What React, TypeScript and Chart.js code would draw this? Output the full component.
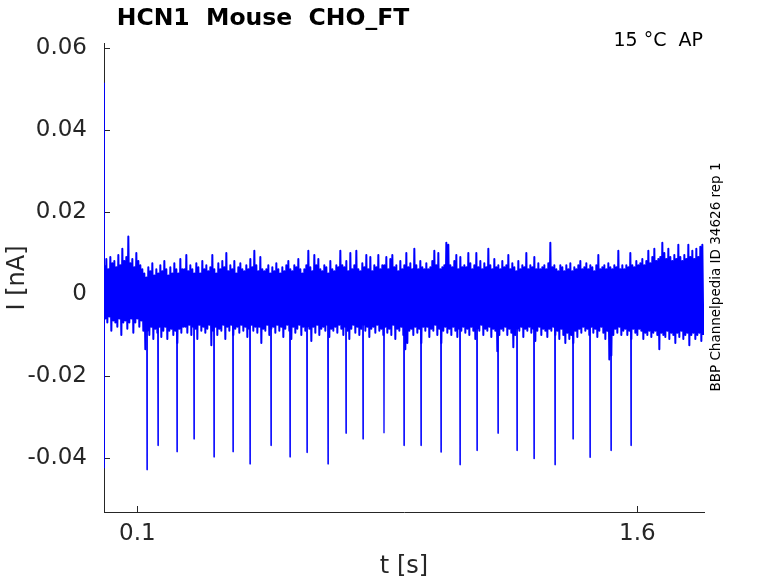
import React, { useEffect, useRef } from "react";
import { Chart, registerables } from "chart.js";

Chart.register(...registerables);

// ---- data ----
const xTicks = [0.1, 1.6];
const xTickLabels = ["0.1", "1.6"];
const yTicks = [-0.04, -0.02, 0, 0.02, 0.04, 0.06];
const yTickLabels = ["-0.04", "-0.02", "0", "0.02", "0.04", "0.06"];

const sampleStep = 0.006; // s between noise envelope samples

// upper excursions of the noisy current, pA
const noiseHiPA = [
  7, 8.5, 6, 9, 7.5, 8, 6.5, 9.5, 7, 11, 8, 9, 14, 7.5, 8.5, 6.5, 10, 8, 7, 6,
  5, 4, 6.5, 5.5, 7.5, 4.5, 6, 5, 7, 5.5, 8, 6, 4.5, 6.5, 5, 7.5, 6, 5, 8.5, 6,
  6, 9.5, 5.5, 7, 6, 5, 7.5, 6.5, 5, 8, 6, 7, 5.5, 6.5, 9.5, 6, 5, 7.5, 6, 8,
  6.5, 10, 5.5, 7, 6, 8, 5, 6.5, 7.5, 6, 5.5, 7, 6, 8.5, 6.5, 10.5, 7, 5.5, 9, 6,
  5.5, 6, 7, 5, 6.5, 5.5, 7.5, 6, 5, 6.5, 5.5, 7, 8, 6, 5.5, 7, 6.5, 8.5, 6, 5,
  6, 7, 10.5, 6.5, 5.5, 9.5, 7, 8.5, 6, 5.5, 7, 6.5, 5, 8, 6, 5.5, 7, 6.5, 10.5, 7,
  6.5, 8, 5.5, 10, 6, 7, 10.5, 6, 5.5, 7.5, 6.5, 9.5, 6, 9, 5.5, 7, 6.5, 9.5, 6, 7,
  7, 9, 6, 8.5, 9.5, 6.5, 7, 5.5, 8, 6, 7, 10, 6.5, 7.5, 6, 11, 7, 6, 8, 6.5,
  6, 7.5, 6, 6.5, 8, 10.5, 7, 10, 6, 6.5, 7, 12.5, 12, 7, 6.5, 8, 9.5, 6, 9, 6.5,
  7, 6.5, 10, 7.5, 6, 7, 10, 6.5, 8, 6, 7.5, 6.5, 11, 7, 6, 8.5, 6.5, 7, 6, 8,
  6.5, 7, 9.5, 6, 7.5, 6.5, 5.5, 8, 6, 7, 6.5, 10, 6, 7, 6.5, 9, 6, 7.5, 6, 6.5,
  7, 6, 7.5, 12.5, 6.5, 7, 6, 5.5, 7, 6.5, 5.5, 7, 6, 7.5, 5.5, 6.5, 6, 7, 8, 6,
  6.5, 7.5, 6, 7, 6.5, 5.5, 7, 9.5, 6, 6.5, 7, 6, 7.5, 6.5, 6, 7, 6.5, 10.5, 6, 7,
  6, 7, 6.5, 10, 7, 6.5, 8, 7, 7.5, 8.5, 7, 8, 10.5, 7.5, 9, 11, 8, 8.5, 9, 12.5,
  10, 8.5, 11, 9, 8, 9.5, 8.5, 12, 9, 8, 9.5, 8.5, 12, 9, 10.5, 8.5, 11, 9, 11.5, 12,
];

// lower excursions of the noisy current, pA
const noiseLoPA = [
  -6, -7, -5.5, -9, -6.5, -7, -8, -6, -10, -7, -6.5, -8.5, -7, -6, -9.5, -7, -6, -8, -6.5, -9,
  -13.5, -9, -10, -8, -11, -8.5, -9.5, -8, -10.5, -9, -8, -11, -9, -8.5, -10, -9, -12, -8.5, -9.5, -8,
  -8, -9.5, -7.5, -10, -8, -8.5, -11, -7.5, -9, -8, -9.5, -8.5, -7.5, -12.5, -9, -8, -10, -8.5, -9, -7.5,
  -11, -8, -9, -7.5, -10, -8.5, -8, -9.5, -7.5, -9, -8, -10.5, -8.5, -7.5, -9, -8, -9.5, -8, -12, -8.5,
  -9, -7.5, -10, -8.5, -8, -9.5, -7.5, -9, -8, -10.5, -8.5, -7.5, -9, -11, -8, -9.5, -8.5, -7.5, -10, -8,
  -9, -8, -8.5, -11.5, -8, -9.5, -7.5, -10, -8.5, -8, -9, -7.5, -10.5, -8.5, -9, -8, -9.5, -7.5, -8.5, -10,
  -8, -9, -11, -8.5, -7.5, -9.5, -8, -10, -8.5, -7.5, -9, -8, -10.5, -8.5, -8, -9.5, -7.5, -9, -8.5, -10,
  -8, -9.5, -8.5, -10, -7.5, -11, -8.5, -9, -8, -10, -13.5, -12, -9, -8.5, -10, -8, -9.5, -8.5, -12, -8,
  -9, -8, -10.5, -8.5, -9, -7.5, -10, -8.5, -12, -9, -8, -9.5, -8.5, -10, -8, -9, -10.5, -8.5, -9, -8,
  -9.5, -8.5, -10, -8, -9, -11, -8.5, -9, -7.5, -10, -8.5, -9, -8, -10.5, -8.5, -9, -14, -10, -8.5, -9,
  -8, -10, -8.5, -9.5, -13, -10, -8.5, -9, -8, -10.5, -8.5, -9, -8, -9.5, -8.5, -11.5, -9, -8, -10, -8.5,
  -9, -10.5, -8.5, -9, -8, -10, -9, -11, -8.5, -10, -12, -9.5, -11, -10, -12, -9, -10.5, -8.5, -9.5, -8,
  -9, -8.5, -10, -8, -9.5, -8.5, -10.5, -9, -8, -9.5, -11, -9, -16, -15, -10, -8.5, -9.5, -8, -10, -9,
  -8.5, -10, -9, -11, -8.5, -9.5, -10, -8.5, -9, -11, -9.5, -10, -9, -10.5, -9.5, -9, -10, -13.5, -9.5, -10,
  -10.5, -9, -11, -9.5, -10, -12, -9.5, -10.5, -9, -11, -10, -9.5, -12.5, -10, -9.5, -11, -10, -9.5, -11.5, -10,
];

// evoked downward current spikes
const spikeTimes = [
  0.129, 0.162, 0.219, 0.27, 0.33, 0.387, 0.438, 0.501, 0.558, 0.609, 0.672, 0.726, 0.777, 0.84,
  0.9, 0.951, 1.011, 1.068, 1.119, 1.182, 1.239, 1.29, 1.353, 1.407, 1.458, 1.521, 1.581,
];
const spikeDepths = [
  -0.0429, -0.037, -0.0385, -0.0354, -0.0398, -0.0385, -0.0415, -0.037, -0.0398, -0.0387, -0.0415,
  -0.034, -0.0354, -0.034, -0.037, -0.037, -0.0386, -0.0417, -0.0382, -0.034, -0.0382, -0.0402,
  -0.0417, -0.0354, -0.0399, -0.0382, -0.037,
];
const spikeBase = -0.004;

// initial capacitive transient
const transientTime = 0.0006;
const transientValues = [0.0515, -0.0425];

const FONT = '"DejaVu Sans", sans-serif';
const AXIS_COLOR = "#262626";

const overlayPlugin = {
  id: "overlay",
  beforeDatasetsDraw(chart: any) {
    const { ctx, chartArea: a, scales } = chart;
    const x = scales.x;
    const y = scales.y;
    ctx.save();
    ctx.strokeStyle = AXIS_COLOR;
    ctx.lineWidth = 1;
    ctx.beginPath();
    for (const v of yTicks) {
      const py = Math.round(y.getPixelForValue(v)) + 0.5;
      ctx.moveTo(a.left, py);
      ctx.lineTo(a.left + 6, py);
    }
    for (const v of xTicks) {
      const px = Math.round(x.getPixelForValue(v)) + 0.5;
      ctx.moveTo(px, a.bottom);
      ctx.lineTo(px, a.bottom - 6);
    }
    ctx.stroke();
    ctx.restore();
  },
  afterDraw(chart: any) {
    const { ctx, chartArea: a } = chart;
    ctx.save();
    ctx.textBaseline = "middle";

    // title
    ctx.fillStyle = "#000";
    ctx.textAlign = "center";
    ctx.font = `bold 23.5px ${FONT}`;
    ctx.fillText("HCN1  Mouse  CHO_FT", 263, 19);

    // top-right annotation
    ctx.textAlign = "right";
    ctx.font = `19px ${FONT}`;
    ctx.fillText("15 °C  AP", 703, 41);

    // axis titles
    ctx.fillStyle = AXIS_COLOR;
    ctx.textAlign = "center";
    ctx.font = `24px ${FONT}`;
    ctx.fillText("t [s]", (a.left + a.right) / 2, 567);

    ctx.save();
    ctx.translate(18, 278);
    ctx.rotate(-Math.PI / 2);
    ctx.fillText("I [nA]", 0, 0);
    ctx.restore();

    // right vertical note
    ctx.fillStyle = "#000";
    ctx.save();
    ctx.translate(716, 277);
    ctx.rotate(-Math.PI / 2);
    ctx.font = `13.5px ${FONT}`;
    ctx.fillText("BBP Channelpedia ID 34626 rep 1", 0, 0);
    ctx.restore();

    ctx.restore();
  },
};

export default function App() {
  const canvasRef = useRef<HTMLCanvasElement | null>(null);

  useEffect(() => {
    if (!canvasRef.current) return;

    const noisePoints: { x: number; y: number }[] = [];
    for (let i = 0; i < noiseHiPA.length; i++) {
      const t = i * sampleStep;
      noisePoints.push({ x: t + 0.001, y: noiseHiPA[i] / 1000 });
      noisePoints.push({ x: t + 0.004, y: noiseLoPA[i] / 1000 });
    }

    const spikePoints: any[] = [];
    spikeTimes.forEach((t, i) => {
      spikePoints.push({ x: t - 0.0008, y: spikeBase });
      spikePoints.push({ x: t, y: spikeDepths[i] });
      spikePoints.push({ x: t + 0.0008, y: spikeBase });
      spikePoints.push({ x: t + 0.0009, y: null });
    });

    const transientPoints = transientValues.map((v) => ({ x: transientTime, y: v }));

    const chart = new Chart(canvasRef.current, {
      type: "scatter",
      data: {
        datasets: [
          {
            data: noisePoints,
            showLine: true,
            borderColor: "#0000ff",
            borderWidth: 2,
            borderJoinStyle: "round",
            pointRadius: 0,
            tension: 0,
          },
          {
            data: spikePoints,
            showLine: true,
            spanGaps: false,
            borderColor: "#0000ff",
            borderWidth: 1.3,
            borderJoinStyle: "bevel",
            pointRadius: 0,
            tension: 0,
          },
          {
            data: transientPoints,
            showLine: true,
            borderColor: "#0000ff",
            borderWidth: 1.5,
            pointRadius: 0,
          },
        ],
      },
      options: {
        animation: false,
        responsive: true,
        maintainAspectRatio: false,
        layout: { padding: { top: 43, right: 74, bottom: 0, left: 0 } },
        plugins: {
          legend: { display: false },
          tooltip: { enabled: false },
          title: { display: false },
        },
        scales: {
          x: {
            type: "linear",
            min: 0,
            max: 1.8,
            grid: { display: false, drawTicks: false },
            border: { display: true, color: AXIS_COLOR, width: 1 },
            afterBuildTicks: (scale: any) => {
              scale.ticks = xTicks.map((v) => ({ value: v }));
            },
            afterFit: (scale: any) => {
              scale.height = 71;
            },
            ticks: {
              padding: 8,
              color: AXIS_COLOR,
              font: { family: FONT, size: 23 },
              maxRotation: 0,
              autoSkip: false,
              callback: (v: any) => {
                const i = xTicks.findIndex((t) => Math.abs(t - v) < 1e-9);
                return i >= 0 ? xTickLabels[i] : "";
              },
            },
          },
          y: {
            type: "linear",
            min: -0.0532,
            max: 0.0612,
            grid: { display: false, drawTicks: false },
            border: { display: true, color: AXIS_COLOR, width: 1 },
            afterBuildTicks: (scale: any) => {
              scale.ticks = yTicks.map((v) => ({ value: v }));
            },
            afterFit: (scale: any) => {
              scale.width = 104;
            },
            ticks: {
              padding: 17,
              color: AXIS_COLOR,
              font: { family: FONT, size: 23 },
              autoSkip: false,
              callback: (v: any) => {
                const i = yTicks.findIndex((t) => Math.abs(t - v) < 1e-9);
                return i >= 0 ? yTickLabels[i] : "";
              },
            },
          },
        },
      },
      plugins: [overlayPlugin],
    });

    return () => chart.destroy();
  }, []);

  return (
    <div
      style={{
        position: "absolute",
        left: 0,
        top: 0,
        width: 778,
        height: 583,
        background: "#fff",
      }}
    >
      <canvas ref={canvasRef} />
    </div>
  );
}
